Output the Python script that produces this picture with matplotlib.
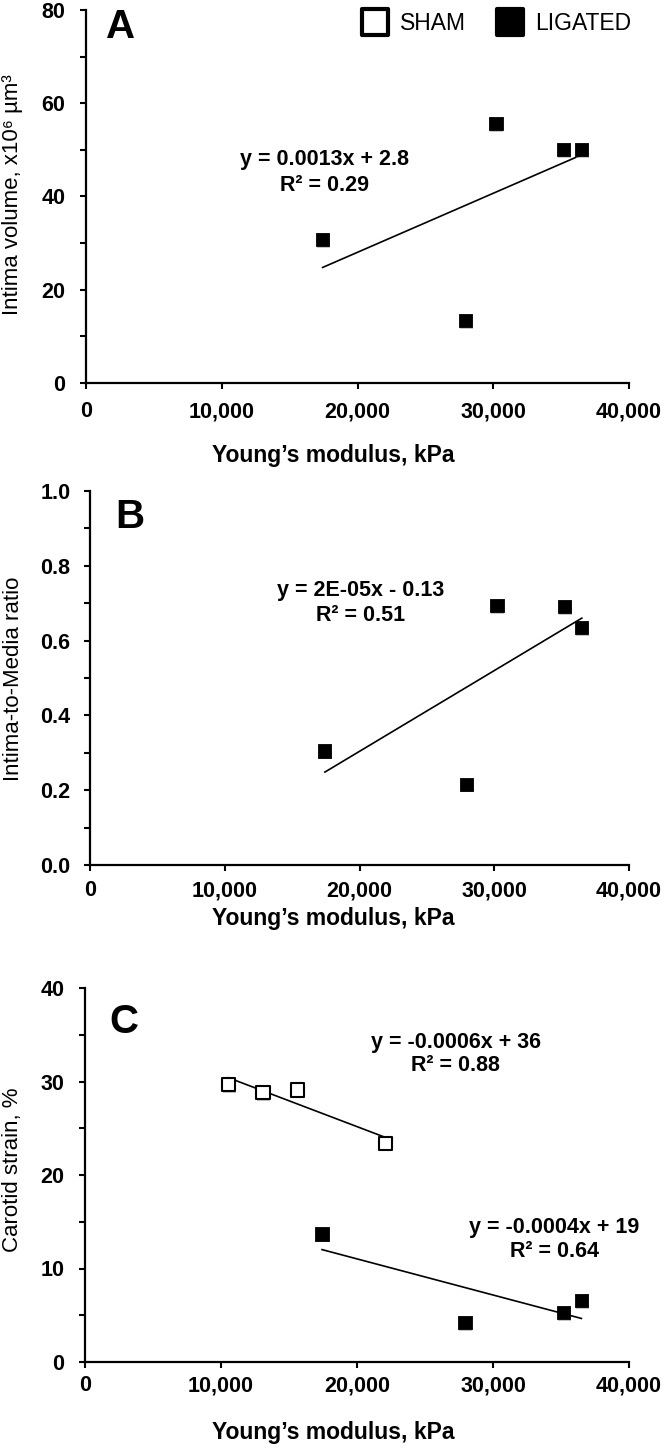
import numpy as np
import matplotlib
matplotlib.use("Agg")
import matplotlib.pyplot as plt
import matplotlib.patheffects as pe
from matplotlib.lines import Line2D
from matplotlib.markers import MarkerStyle

plt.rcParams['font.family'] = ['Liberation Sans', 'DejaVu Sans']

# valores
x_lig = [17430, 27940, 30200, 35200, 36500]
vol_lig = [30.8, 13.4, 55.7, 50.0, 50.1]
ratio_lig = [0.305, 0.216, 0.693, 0.691, 0.635]

x_lig_c = [17430, 27940, 35200, 36500]
strain_lig = [13.7, 4.2, 5.3, 6.6]
x_sham = [10556, 13090, 15650, 22070]
strain_sham = [29.7, 28.8, 29.1, 23.4]

xticks = [0, 10000, 20000, 30000, 40000]
xticklabels = ["0", "10,000", "20,000", "30,000", "40,000"]

W, H = 666, 1450
fig = plt.figure(figsize=(W / 100, H / 100), dpi=100)


def caja(l, t, r, b):
    return [l / W, 1 - b / H, (r - l) / W, (b - t) / H]


sombra = [pe.SimplePatchShadow(offset=(0.6, -1.2), shadow_rgbFace='0.55', alpha=0.5), pe.Normal()]
cuadro = MarkerStyle('s', joinstyle='round')


def estilo(ax, ymax, mayor, menor, fmt, xpad, ypad):
    ax.set_xlim(0, 40000)
    ax.set_ylim(0, ymax)
    ax.spines['top'].set_visible(False)
    ax.spines['right'].set_visible(False)
    ax.spines['left'].set_linewidth(1.6)
    ax.spines['bottom'].set_linewidth(1.6)
    ax.set_xticks(xticks)
    ax.set_xticklabels(xticklabels, fontsize=15.5, fontweight='bold')
    ax.set_yticks(mayor)
    ax.set_yticklabels([fmt % v for v in mayor], fontsize=15.5, fontweight='bold')
    ax.set_yticks(menor, minor=True)
    ax.tick_params(axis='both', which='both', direction='out', length=4, width=1.5)
    ax.tick_params(axis='x', pad=xpad)
    ax.tick_params(axis='y', which='major', pad=ypad)


def puntos(ax, x, y, relleno):
    coef = np.polyfit(x, y, 1)
    xs = np.array([min(x), max(x)])
    ax.plot(xs, np.polyval(coef, xs), color='black', lw=1.2, zorder=2)
    ax.plot(x, y, ls='none', marker=cuadro, ms=9.5, mfc=relleno, mec='black',
            mew=1.5 if relleno == 'white' else 0.6, path_effects=sombra, zorder=3)


# ---- A ----
axA = fig.add_axes(caja(86, 10, 629, 383))
estilo(axA, 80, list(range(0, 81, 20)), list(range(10, 80, 20)), "%d", 9, 11)
puntos(axA, x_lig, vol_lig, 'black')
axA.text(1500, 74.0, "A", fontsize=29, fontweight='bold')
axA.text(17600, 46.8, "y = 0.0013x + 2.8", ha='center', fontsize=15.5, fontweight='bold')
axA.text(17600, 41.2, "R² = 0.29", ha='center', fontsize=15.5, fontweight='bold')
axA.set_xlabel("Young\u2019s modulus, kPa", fontsize=16.5, fontweight='bold', va='center')
axA.xaxis.set_label_coords(0.5, 1 - 455 / H, transform=fig.transFigure)
axA.set_ylabel("Intima volume, x10\u2076 \u00b5m\u00b3", fontsize=16, va='center')
axA.yaxis.set_label_coords(13 / W, 1 - 195 / H, transform=fig.transFigure)

h_sham = Line2D([], [], ls='none', marker=cuadro, ms=19, mfc='white', mec='black', mew=3)
h_lig = Line2D([], [], ls='none', marker=cuadro, ms=19, mfc='black', mec='black', mew=3)
fig.legend([h_sham, h_lig], ["SHAM", "LIGATED"], loc='upper right',
           bbox_to_anchor=(631 / W, 1 - 12 / H), ncol=2, frameon=False, fontsize=16.5,
           handlelength=1.2, handletextpad=0.5, columnspacing=1.3,
           borderpad=0, borderaxespad=0)

# ---- B ----
axB = fig.add_axes(caja(90, 491, 629, 865))
estilo(axB, 1.0, [0, 0.2, 0.4, 0.6, 0.8, 1.0], [0.1, 0.3, 0.5, 0.7, 0.9], "%.1f", 7, 10)
puntos(axB, x_lig, ratio_lig, 'black')
axB.text(1900, 0.901, "B", fontsize=29, fontweight='bold')
axB.text(20100, 0.719, "y = 2E-05x - 0.13", ha='center', fontsize=15.5, fontweight='bold')
axB.text(20100, 0.652, "R² = 0.51", ha='center', fontsize=15.5, fontweight='bold')
axB.set_xlabel("Young\u2019s modulus, kPa", fontsize=16.5, fontweight='bold', va='center')
axB.xaxis.set_label_coords(0.5, 1 - 918 / H, transform=fig.transFigure)
axB.set_ylabel("Intima-to-Media ratio", fontsize=16, va='center')
axB.yaxis.set_label_coords(14 / W, 1 - 679 / H, transform=fig.transFigure)

# ---- C ----
axC = fig.add_axes(caja(85, 988, 629, 1362))
estilo(axC, 40, list(range(0, 41, 10)), list(range(5, 40, 10)), "%d", 5.5, 11)
puntos(axC, x_sham, strain_sham, 'white')
puntos(axC, x_lig_c, strain_lig, 'black')
axC.text(1800, 35.2, "C", fontsize=29, fontweight='bold')
axC.text(27250, 33.6, "y = -0.0006x + 36", ha='center', fontsize=15.5, fontweight='bold')
axC.text(27250, 31.1, "R² = 0.88", ha='center', fontsize=15.5, fontweight='bold')
axC.text(34500, 13.8, "y = -0.0004x + 19", ha='center', fontsize=15.5, fontweight='bold')
axC.text(34500, 11.2, "R² = 0.64", ha='center', fontsize=15.5, fontweight='bold')
axC.set_xlabel("Young\u2019s modulus, kPa", fontsize=16.5, fontweight='bold', va='center')
axC.xaxis.set_label_coords(0.5, 1 - 1433 / H, transform=fig.transFigure)
axC.set_ylabel("Carotid strain, %", fontsize=16, va='center')
axC.yaxis.set_label_coords(13 / W, 1 - 1170 / H, transform=fig.transFigure)

fig.savefig("out.png", dpi=100)
